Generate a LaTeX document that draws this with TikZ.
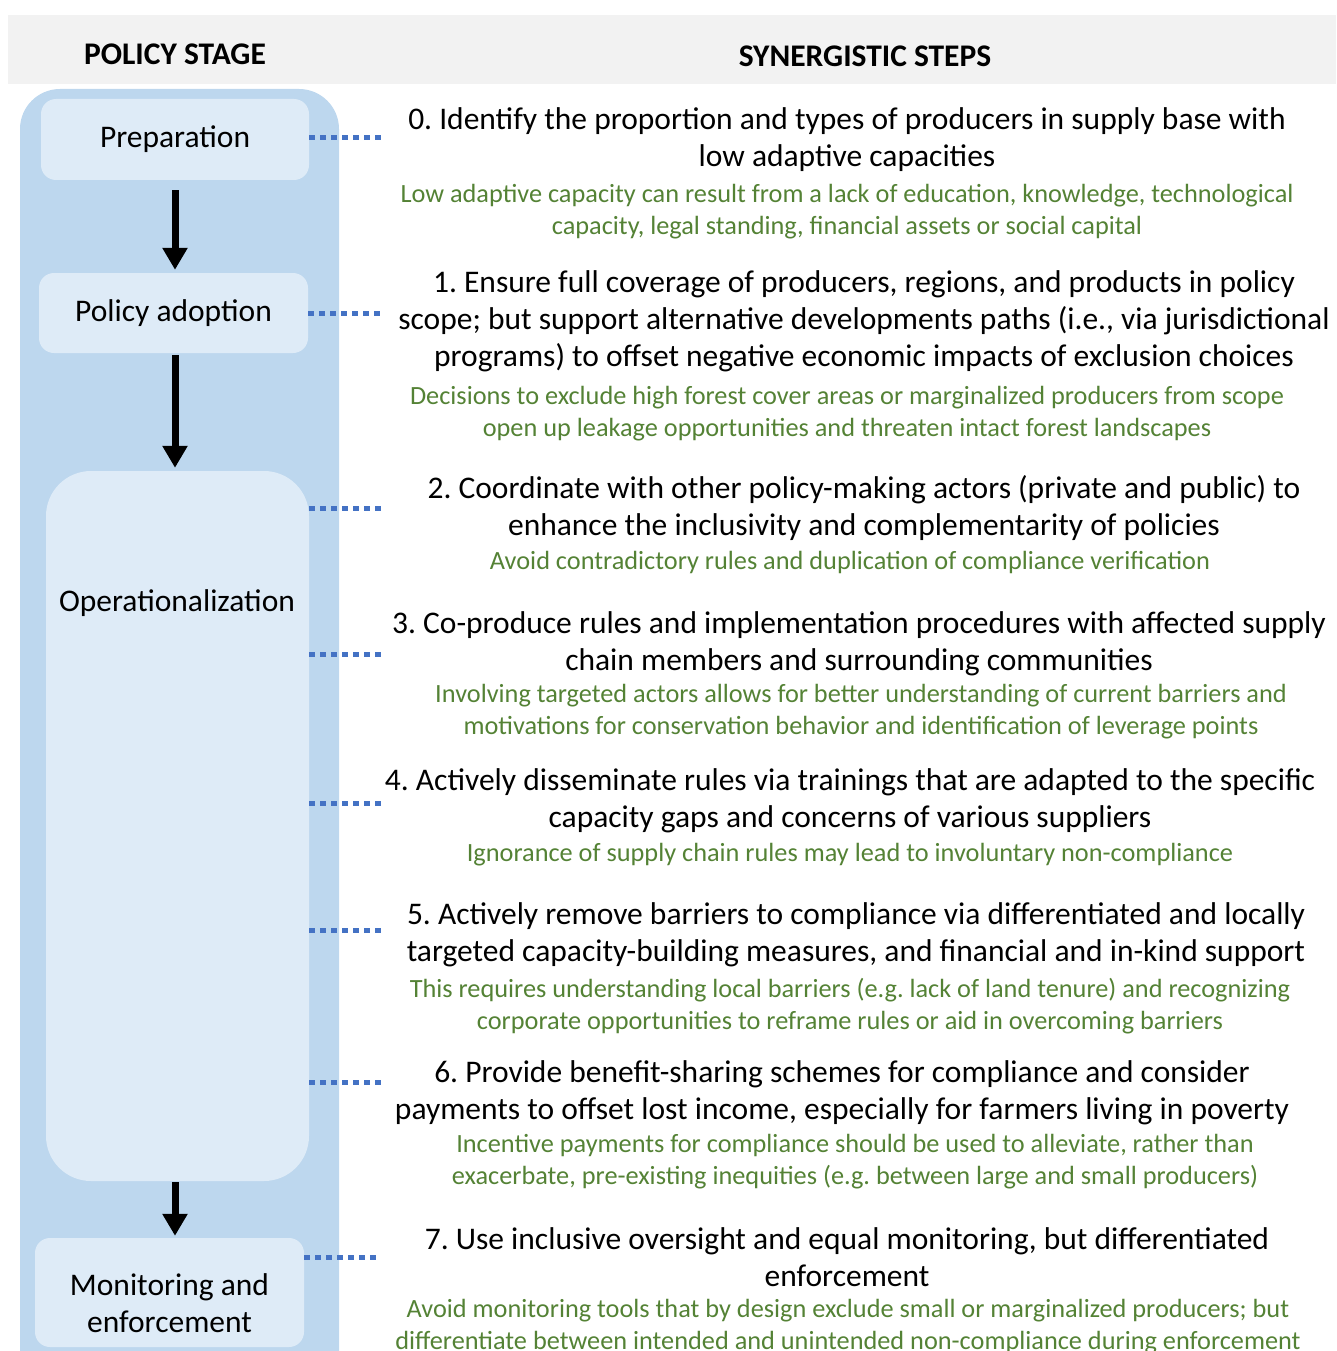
\documentclass[tikz,border=0pt]{standalone}
\usepackage{fontspec}
\setmainfont{Carlito}
\usetikzlibrary{arrows.meta}
\definecolor{stageouter}{HTML}{BDD7EE}
\definecolor{stageinner}{HTML}{DEEBF7}
\definecolor{headgray}{HTML}{F2F2F2}
\definecolor{linkblue}{HTML}{4472C4}
\definecolor{notegreen}{HTML}{548235}
\frenchspacing

\begin{document}
\begin{tikzpicture}[x=1pt, y=-1pt,
  stagebox/.style={fill=stageinner, rounded corners=15pt, inner sep=0pt, align=center, font=\fontsize{31.5}{37}\selectfont},
  steptext/.style={inner sep=0pt, yshift=-2pt, align=center, font=\fontsize{31.5}{37}\selectfont},
  notetext/.style={inner sep=0pt, yshift=-2pt, align=center, text=notegreen, font=\fontsize{26.3}{32}\selectfont},
  headtext/.style={inner sep=0pt, yshift=-1pt, font=\bfseries\fontsize{31.5}{37}\selectfont},
  link/.style={linkblue, line width=5pt, dash pattern=on 6pt off 5pt},
  flow/.style={line width=7pt, -{Triangle[width=24pt,length=22pt]}}]
\useasboundingbox (0,0) rectangle (1336,1351);
\clip (0,0) rectangle (1336,1351);

% header band and stage column
\fill[headgray] (8,15) rectangle (1336,84);
\fill[stageouter, rounded corners=40pt] (20,89) rectangle (339,1400);
\node[headtext] (stagehead) at (175,53) {POLICY STAGE};
\node[headtext] (stephead) at (865,55) {SYNERGISTIC STEPS};

% policy stages
\node[stagebox, minimum width=268pt, minimum height=81pt] (prep) at (175,139.5) {Preparation};
\node[stagebox, minimum width=269pt, minimum height=80pt] (adopt) at (173.5,313) {Policy adoption};
\node[stagebox, rounded corners=45pt, minimum width=263pt, minimum height=710pt] (oper) at (177.5,826) {};
\node[steptext] (operlabel) at (177,601) {Operationalization};
\node[stagebox, minimum width=269pt, minimum height=109pt] (monit) at (169.5,1292.5) {};
\node[steptext] (monitlabel) at (169.5,1301.5) {Monitoring and\\enforcement};

\draw[flow, shorten <=10pt, shorten >=3pt] (prep.south) -- (prep.south |- adopt.north);
\draw[flow, shorten <=2pt, shorten >=3pt] (prep.south |- adopt.south) -- (prep.south |- oper.north);
\draw[flow, shorten <=1pt, shorten >=2pt] (prep.south |- oper.south) -- (prep.south |- monit.north);

% synergistic steps
\node[steptext] (step0) at (847,137.5) {0. Identify the proportion and types of producers in supply base with\\low adaptive capacities};
\node[notetext] (note0) at (847,210) {Low adaptive capacity can result from a lack of education, knowledge, technological\\capacity, legal standing, financial assets or social capital};
\node[steptext] (step1) at (864,319.5) {1. Ensure full coverage of producers, regions, and products in policy\\scope; but support alternative developments paths (i.e., via jurisdictional\\programs) to offset negative economic impacts of exclusion choices};
\node[notetext] (note1) at (847,412) {Decisions to exclude high forest cover areas or marginalized producers from scope\\open up leakage opportunities and threaten intact forest landscapes};
\node[steptext] (step2) at (864,506.5) {2. Coordinate with other policy-making actors (private and public) to\\enhance the inclusivity and complementarity of policies};
\node[notetext] (note2) at (850,560) {Avoid contradictory rules and duplication of compliance verification};
\node[steptext] (step3) at (859,641.5) {3. Co-produce rules and implementation procedures with affected supply\\chain members and surrounding communities};
\node[notetext] (note3) at (861,709.5) {Involving targeted actors allows for better understanding of current barriers and\\motivations for conservation behavior and identification of leverage points};
\node[steptext] (step4) at (850,798.5) {4. Actively disseminate rules via trainings that are adapted to the specific\\capacity gaps and concerns of various suppliers};
\node[notetext] (note4) at (850,853) {Ignorance of supply chain rules may lead to involuntary non-compliance};
\node[steptext] (step5) at (856,932.5) {5. Actively remove barriers to compliance via differentiated and locally\\targeted capacity-building measures, and financial and in-kind support};
\node[notetext] (note5) at (850,1004.5) {This requires understanding local barriers (e.g. lack of land tenure) and recognizing\\corporate opportunities to reframe rules or aid in overcoming barriers};
\node[steptext] (step6) at (842,1090.5) {6. Provide benefit-sharing schemes for compliance and consider\\payments to offset lost income, especially for farmers living in poverty};
\node[notetext] (note6) at (855,1160) {Incentive payments for compliance should be used to alleviate, rather than\\exacerbate, pre-existing inequities (e.g. between large and small producers)};
\node[steptext] (step7) at (847,1255.5) {7. Use inclusive oversight and equal monitoring, but differentiated\\enforcement};
\node[notetext] (note7) at (848,1325) {Avoid monitoring tools that by design exclude small or marginalized producers; but\\differentiate between intended and unintended non-compliance during enforcement};

% dotted links from stages to steps
\foreach \s/\n/\x/\y in {prep/0/382/138, adopt/1/382/313, oper/2/382/508, oper/3/382/654,
    oper/4/382/803, oper/5/382/930, oper/6/382/1082, monit/7/378/1257} {
  \coordinate (d\n) at (\x,\y);
  \draw[link] (\s.east |- d\n) -- (d\n);
}
\end{tikzpicture}
\end{document}
